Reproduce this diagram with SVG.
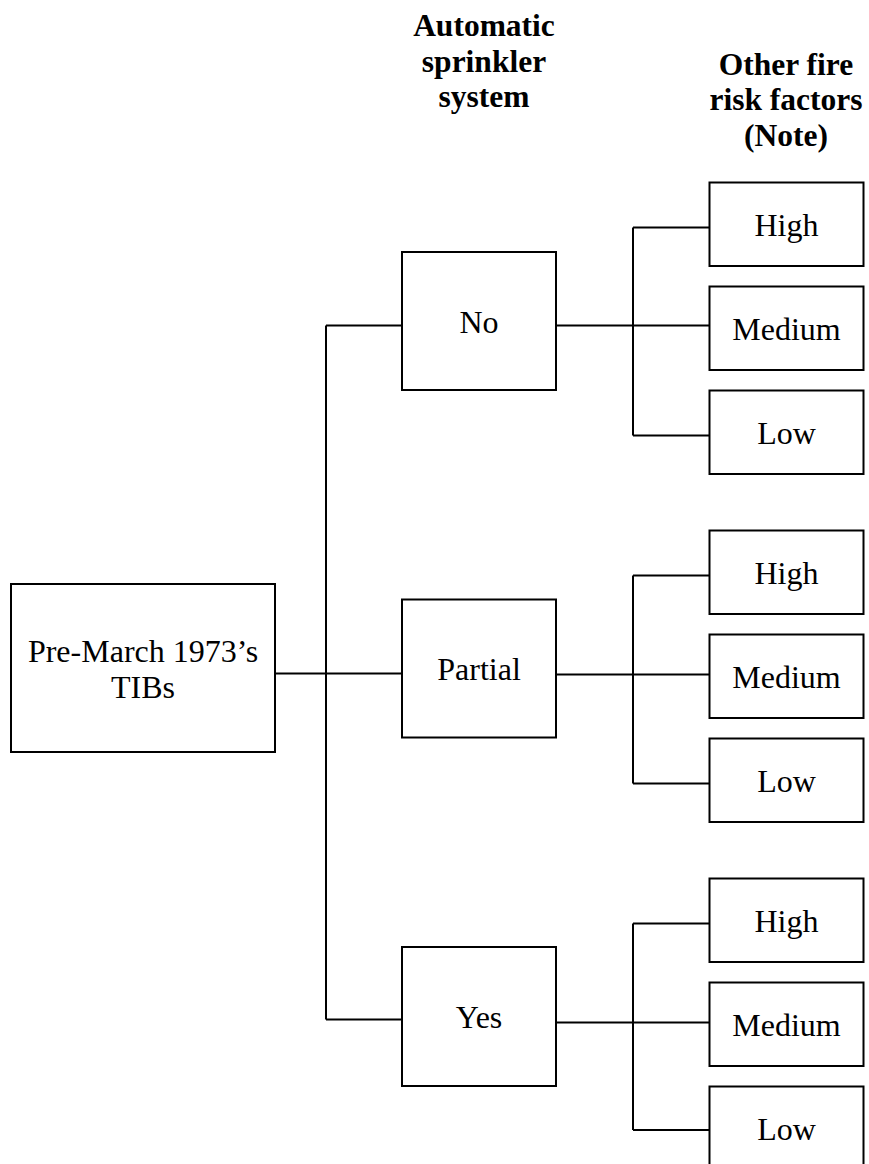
<svg xmlns="http://www.w3.org/2000/svg" width="869" height="1164" viewBox="0 0 869 1164">
  <style>
    .box { fill: #ffffff; stroke: #000000; stroke-width: 2; }
    .wire { fill: none; stroke: #000000; stroke-width: 2; }
    .lbl { font-family: "Liberation Serif", "Times New Roman", serif; font-size: 32px; fill: #000000; text-anchor: middle; }
    .head { font-family: "Liberation Serif", "Times New Roman", serif; font-size: 31.5px; font-weight: bold; fill: #000000; text-anchor: middle; }
  </style>
  <rect width="869" height="1164" fill="#ffffff"/>

  <!-- column headings -->
  <g id="heading-sprinkler">
    <text class="head" x="484" y="36">Automatic</text>
    <text class="head" x="484" y="71.5">sprinkler</text>
    <text class="head" x="484" y="107">system</text>
  </g>
  <g id="heading-other">
    <text class="head" x="786" y="74.5">Other fire</text>
    <text class="head" x="786" y="110">risk factors</text>
    <text class="head" x="786" y="145.5">(Note)</text>
  </g>

  <!-- connectors -->
  <g id="connectors">
    <path class="wire" d="M275 673.5 H326 M326 325.5 V1019.5 M326 325.5 H402 M326 673.5 H402 M326 1019.5 H402"/>
    <!-- No branch -->
    <path class="wire" d="M556 325.5 H709.5 M633 227.5 V435.5 M633 227.5 H709.5 M633 435.5 H709.5"/>
    <!-- Partial branch -->
    <path class="wire" d="M556 674.5 H709.5 M633 575.5 V783.5 M633 575.5 H709.5 M633 783.5 H709.5"/>
    <!-- Yes branch -->
    <path class="wire" d="M556 1022.5 H709.5 M633 923.5 V1130 M633 923.5 H709.5 M633 1130 H709.5"/>
  </g>

  <!-- root -->
  <g id="root">
    <rect class="box" x="11" y="584" width="264" height="168"/>
    <text class="lbl" x="143" y="662">Pre-March 1973’s</text>
    <text class="lbl" x="143" y="698">TIBs</text>
  </g>

  <!-- sprinkler options -->
  <g id="sprinkler-no">
    <rect class="box" x="402" y="252" width="154" height="138"/>
    <text class="lbl" x="479" y="333">No</text>
  </g>
  <g id="sprinkler-partial">
    <rect class="box" x="402" y="599.5" width="154" height="138"/>
    <text class="lbl" x="479" y="680">Partial</text>
  </g>
  <g id="sprinkler-yes">
    <rect class="box" x="402" y="947" width="154" height="139"/>
    <text class="lbl" x="479" y="1028">Yes</text>
  </g>

  <!-- risk levels under No -->
  <g id="no-high">
    <rect class="box" x="709.5" y="182.5" width="154" height="83.5"/>
    <text class="lbl" x="786.5" y="235.5">High</text>
  </g>
  <g id="no-medium">
    <rect class="box" x="709.5" y="286.5" width="154" height="83.5"/>
    <text class="lbl" x="786.5" y="339.5">Medium</text>
  </g>
  <g id="no-low">
    <rect class="box" x="709.5" y="390.5" width="154" height="83.5"/>
    <text class="lbl" x="786.5" y="443.5">Low</text>
  </g>

  <!-- risk levels under Partial -->
  <g id="partial-high">
    <rect class="box" x="709.5" y="530.5" width="154" height="83.5"/>
    <text class="lbl" x="786.5" y="583.5">High</text>
  </g>
  <g id="partial-medium">
    <rect class="box" x="709.5" y="634.5" width="154" height="83.5"/>
    <text class="lbl" x="786.5" y="687.5">Medium</text>
  </g>
  <g id="partial-low">
    <rect class="box" x="709.5" y="738.5" width="154" height="83.5"/>
    <text class="lbl" x="786.5" y="791.5">Low</text>
  </g>

  <!-- risk levels under Yes -->
  <g id="yes-high">
    <rect class="box" x="709.5" y="878.5" width="154" height="83.5"/>
    <text class="lbl" x="786.5" y="931.5">High</text>
  </g>
  <g id="yes-medium">
    <rect class="box" x="709.5" y="982.5" width="154" height="83.5"/>
    <text class="lbl" x="786.5" y="1035.5">Medium</text>
  </g>
  <g id="yes-low">
    <rect class="box" x="709.5" y="1086.5" width="154" height="83.5"/>
    <text class="lbl" x="786.5" y="1139.5">Low</text>
  </g>
</svg>
